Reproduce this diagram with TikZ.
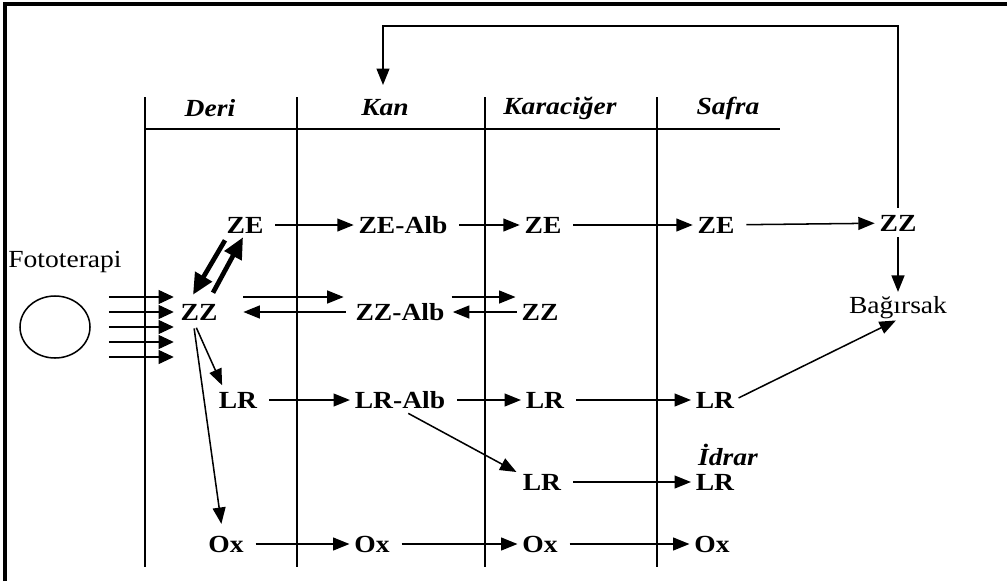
\documentclass[tikz,border=0pt]{standalone}
\usepackage{fontspec}
\setmainfont[FakeStretch=1.12]{Liberation Serif}
\usetikzlibrary{arrows.meta,shapes.geometric}

\tikzset{
  lbl/.style={inner sep=0pt, font=\fontsize{21}{23}\selectfont\bfseries},
  txt/.style={inner sep=0pt, font=\fontsize{21}{23}\selectfont},
  hdr/.style={inner sep=0pt, font=\fontsize{21}{23}\selectfont\bfseries\itshape},
  arr/.style={-{Triangle[length=14pt,width=11pt]}, line width=1.3pt, shorten <=10pt, shorten >=4pt},
  bigarr/.style={-{Triangle[length=18pt,width=16pt]}, line width=4pt},
  ray/.style={-{Triangle[length=13pt,width=12pt]}, line width=0.9pt},
  rule/.style={line width=1.5pt}
}

\begin{document}
\begin{tikzpicture}[x=0.03cm, y=-0.03cm]
  \useasboundingbox (0,0) rectangle (1007,581);
  % frame
  \draw[line width=3pt] (5,581) -- (5,4) -- (1007,4);

  % columns
  \foreach \x in {145,297,485,657}
    \draw[rule] (\x,97) -- (\x,567);
  \draw[rule] (145,129) -- (780,129);

  \node[hdr] (deri) at (210,108) {Deri};
  \node[hdr] (kan) at (385,108) {Kan};
  \node[hdr] (karac) at (560,108) {Karaciğer};
  \node[hdr] (safra) at (728,108) {Safra};

  % light source
  \node[txt] (fot) at (65,262) {Fototerapi};
  \node[draw, ellipse, line width=1.3pt, inner sep=0pt,
        minimum width=2.1cm, minimum height=1.86cm] (sun) at (55,327) {};
  \foreach \d in {-2,...,2}
    \draw[ray] ([shift={(0.54cm,\d*0.45cm)}]sun.east) -- ++(1.95cm,0);

  % substances
  \def \Nodes {
    zeDeri/245/225/ZE, zzDeri/199/312/ZZ, lrDeri/238/400/LR, oxDeri/226/544/Ox,
    zeKan/403/225/ZE-Alb, zzKan/400/312/ZZ-Alb, lrKan/400/400/LR-Alb, oxKan/372/544/Ox,
    zeKc/543/225/ZE, zzKc/540/312/ZZ, lrKc/545/400/LR, lrKc2/542/482/LR, oxKc/540/544/Ox,
    zeSf/716/225/ZE, lrSf/715/400/LR, lrId/715/482/LR, oxSf/712/544/Ox,
    zzOut/898/223/ZZ}
  \foreach \id / \x / \y / \w in \Nodes {
    \node[lbl] (\id) at (\x, \y) {\w};
  }
  \node[txt] (bag) at (898,308) {Bağırsak};
  \node[hdr] (idrar) at (728,455) {İdrar};

  % flows
  \foreach \a / \b in {zeDeri/zeKan, zeKan/zeKc, zeKc/zeSf, zeSf/zzOut,
                       lrDeri/lrKan, lrKan/lrKc, lrKc/lrSf, lrKc2/lrId,
                       oxDeri/oxKan, oxKan/oxKc, oxKc/oxSf} {
    \draw[arr] (\a) -- (\b);
  }
  \draw[arr, shorten <=22pt, shorten >=10pt] ([yshift=0.45cm]zzDeri.east) -- ([yshift=0.45cm]zzKan.west);
  \draw[arr, shorten <=8pt, shorten >=22pt] (zzKan) -- (zzDeri);
  \draw[arr, shorten <=6pt, shorten >=5pt] ([yshift=0.45cm]zzKan.east) -- ([yshift=0.45cm]zzKc.west);
  \draw[arr, shorten <=4pt, shorten >=7pt] (zzKc) -- (zzKan);

  \draw[bigarr] ([xshift=-0.6cm,yshift=-0.21cm]zeDeri.south) -- ([xshift=-0.18cm,yshift=0.27cm]zzDeri.north);
  \draw[bigarr] ([xshift=0.42cm,yshift=0.33cm]zzDeri.north) -- ([xshift=-0.06cm,yshift=-0.12cm]zeDeri.south);

  \draw[arr, shorten <=7pt, shorten >=6pt] ([xshift=-0.18cm]zzDeri.south) -- ([xshift=-0.39cm]lrDeri.north);
  \draw[arr, shorten <=7pt, shorten >=10pt] ([xshift=-0.18cm]zzDeri.south) -- ([xshift=-0.09cm]oxDeri.north);
  \draw[arr, shorten <=8pt, shorten >=6pt] (lrKan.south) -- ([yshift=0.2cm]lrKc2.west);

  \draw[arr, shorten <=5pt, shorten >=4pt] (zzOut.south) -- (bag.north);
  \draw[arr, shorten <=4pt, shorten >=2pt] (lrSf.east) -- (bag.south);

  \coordinate (loopTop) at (383,26);
  \coordinate (loopEnd) at (383,85);
  \draw[arr, shorten <=6pt, shorten >=0pt] (zzOut.north) |- (loopTop) -- (loopEnd);
\end{tikzpicture}
\end{document}
